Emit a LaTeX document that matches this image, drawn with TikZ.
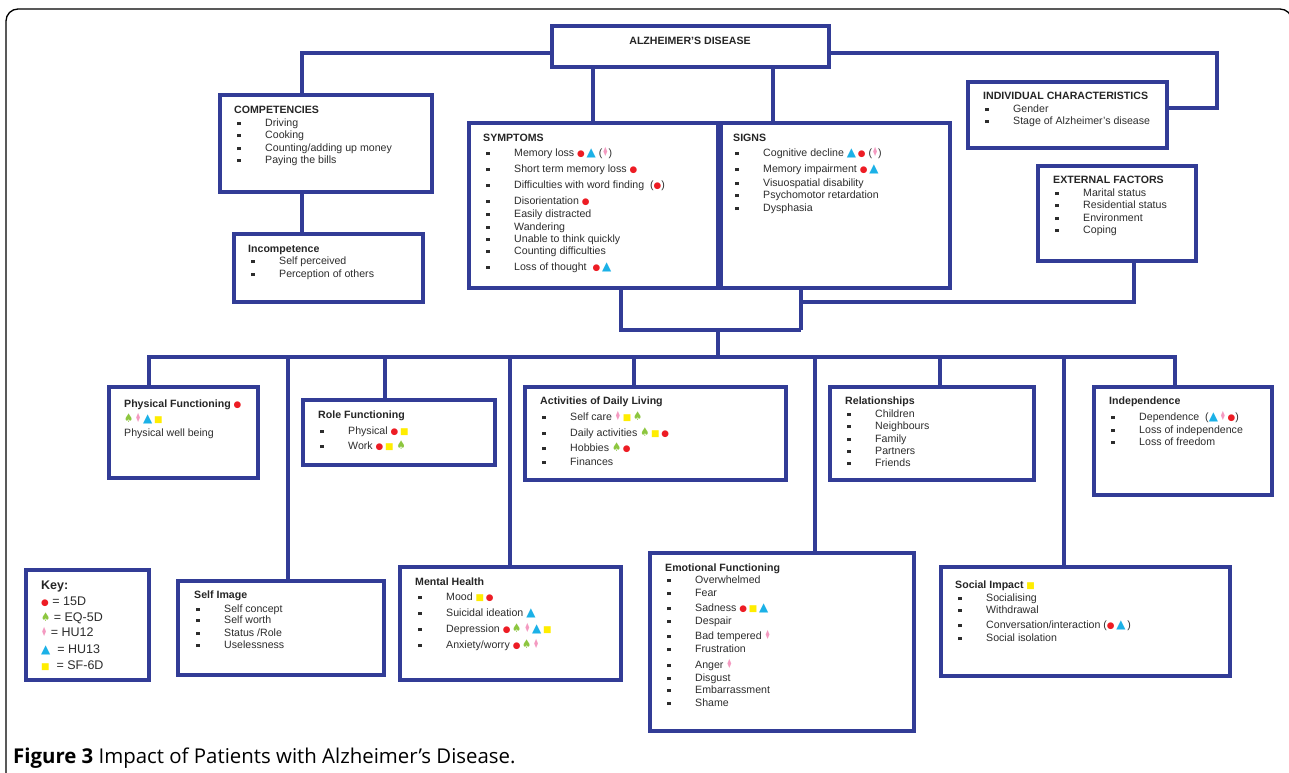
\documentclass[tikz,border=0pt]{standalone}
\usepackage{fontspec}
\usepackage{graphicx}
\setmainfont{Liberation Sans}
\newfontfamily\symf{DejaVu Sans}
\newfontfamily\capf{Open Sans}
\usetikzlibrary{fit}
\definecolor{ln}{RGB}{50,60,150}
\definecolor{cR}{RGB}{237,28,36}
\definecolor{cG}{RGB}{141,198,63}
\definecolor{cP}{RGB}{244,154,193}
\definecolor{cB}{RGB}{27,177,231}
\definecolor{cY}{RGB}{255,237,0}
\definecolor{tx}{RGB}{45,45,45}
\newcommand\sR{{\symf\fontsize{8.8}{10}\selectfont\textcolor{cR}{●}}}
\newcommand\sG{{\symf\fontsize{12}{10}\selectfont\textcolor{cG}{\raisebox{-0.5pt}{\scalebox{0.85}[1]{♠}}}}}
\newcommand\sP{{\symf\fontsize{12.5}{10}\selectfont\textcolor{cP}{\raisebox{-0.5pt}{\scalebox{0.55}[1]{♦}}}}}
\newcommand\sB{{\symf\fontsize{12}{10}\selectfont\textcolor{cB}{▲}}}
\newcommand\sY{{\symf\fontsize{9}{10}\selectfont\textcolor{cY}{■}}}
\newcounter{tn}
\newcommand\itm[3]{\stepcounter{tn}\node[txt] (i\arabic{tn}) at (#1,#2+4) {\makebox[28pt][l]{\rule[0.8pt]{3.6pt}{3.6pt}}#3};}
\newcommand\hd[3]{\stepcounter{tn}\node[hdt] (h\arabic{tn}) at (#1,#2+4) {#3};}
\newcommand\pl[3]{\stepcounter{tn}\node[txt] (p\arabic{tn}) at (#1,#2+4) {#3};}
\begin{document}
\begin{tikzpicture}[x=1pt,y=-1pt,
  box/.style={draw=ln, line width=3.2pt, inner sep=0pt, outer sep=0pt, rectangle},
  conn/.style={draw=ln, line width=3.2pt, line join=miter},
  txt/.style={anchor=base west, inner sep=0pt, text=tx, font=\fontsize{10.6}{12}\selectfont},
  hdt/.style={anchor=base west, inner sep=0pt, text=black!85, font=\bfseries\fontsize{10.6}{12}\selectfont},
  keyt/.style={txt, font=\fontsize{12.5}{14}\selectfont}]
\useasboundingbox (0,0) rectangle (1289,772);
\fill[white] (0,0) rectangle (1289,772);
% outer frame
\draw[black, line width=1.3pt, rounded corners=12pt] (6,790) -- (6,9) -- (1292,9) -- (1292,790);
% boxes
\node[box, fit={(552,26) (829,67)}] (alz) {};
\node[box, fit={(220,95) (432,192)}] (comp) {};
\node[box, fit={(234,234) (423,302)}] (inc) {};
\node[box, fit={(469,123) (721,288)}] (sym) {};
\node[box, fit={(718,123) (950,288)}] (sig) {};
\node[box, fit={(968,82) (1167,148)}] (ind) {};
\node[box, fit={(1038,166) (1196,261)}] (ext) {};
\node[box, fit={(109,387) (258,478)}] (pf) {};
\node[box, fit={(303,400) (495,465)}] (rf) {};
\node[box, fit={(525,387) (786,480)}] (adl) {};
\node[box, fit={(830,387) (1034,480)}] (rel) {};
\node[box, fit={(1094,387) (1272,495)}] (indep) {};
\node[box, fit={(26,570) (149,680)}] (key) {};
\node[box, fit={(178,581) (384,675)}] (si) {};
\node[box, fit={(400,567) (621,680)}] (mh) {};
\node[box, fit={(650,553) (914,731)}] (ef) {};
\node[box, fit={(941,567) (1230,676)}] (soc) {};
% helper coordinates
\coordinate (y53) at (0,53);
\coordinate (y108) at (0,108);
\coordinate (y302) at (0,302);
\coordinate (y330) at (0,330);
\coordinate (y357) at (0,357);
\coordinate (x302) at (302,0);
\coordinate (x593) at (593,0);
\coordinate (x773) at (773,0);
\coordinate (x1217) at (1217,0);
\coordinate (x621) at (621,0);
\coordinate (x801) at (801,0);
\coordinate (x1134) at (1134,0);
\coordinate (x718) at (718,0);
\coordinate (x149) at (149,0);
\coordinate (x288) at (288,0);
\coordinate (x385) at (385,0);
\coordinate (x510) at (510,0);
\coordinate (x634) at (634,0);
\coordinate (x815) at (815,0);
\coordinate (x940) at (940,0);
\coordinate (x1064) at (1064,0);
\coordinate (x1175) at (1175,0);
% connectors
\draw[conn] (alz.west |- y53) -| (comp.north -| x302);
\draw[conn] (comp.south -| x302) -- (inc.north -| x302);
\draw[conn] (alz.south -| x593) -- (sym.north -| x593);
\draw[conn] (alz.south -| x773) -- (sig.north -| x773);
\draw[conn] (alz.east |- y53) -| (x1217 |- y108) -- (ind.east |- y108);
\draw[conn] (sig.south -| x801) |- (x1134 |- y302) -- (ext.south -| x1134);
\draw[conn] (sig.south -| x801) -- (x801 |- y330);
\draw[conn] (sym.south -| x621) |- (x801 |- y330);
\draw[conn] (x718 |- y330) -- (x718 |- y357);
\draw[conn] (pf.north -| x149) |- (x718 |- y357) -| (indep.north -| x1175);
\draw[conn] (x288 |- y357) -- (si.north -| x288);
\draw[conn] (x385 |- y357) -- (rf.north -| x385);
\draw[conn] (x510 |- y357) -- (mh.north -| x510);
\draw[conn] (x634 |- y357) -- (adl.north -| x634);
\draw[conn] (x815 |- y357) -- (ef.north -| x815);
\draw[conn] (x940 |- y357) -- (rel.north -| x940);
\draw[conn] (x1064 |- y357) -- (soc.north -| x1064);
% texts
\node[hdt, anchor=base] (alzt) at (690,44) {ALZHEIMER’S DISEASE};
\hd{234}{109}{COMPETENCIES}
\itm{237}{122}{Driving}
\itm{237}{134}{Cooking}
\itm{237}{147}{Counting/adding up money}
\itm{237}{159}{Paying the bills}
\hd{248}{248}{Incompetence}
\itm{251}{260}{Self perceived}
\itm{251}{273}{Perception of others}
\hd{483}{137}{SYMPTOMS}
\itm{486}{152}{Memory loss \sR\,\sB\ (\sP)}
\itm{486}{168}{Short term memory loss \sR}
\itm{486}{184}{Difficulties with word finding\ \ (\sR)}
\itm{486}{200}{Disorientation \sR}
\itm{486}{213}{Easily distracted}
\itm{486}{226}{Wandering}
\itm{486}{238}{Unable to think quickly}
\itm{486}{250}{Counting difficulties}
\itm{486}{266}{Loss of thought\ \ \sR\,\sB}
\hd{733}{137}{SIGNS}
\itm{735}{152}{Cognitive decline \sB\,\sR\ (\sP)}
\itm{735}{168}{Memory impairment \sR\,\sB}
\itm{735}{182}{Visuospatial disability}
\itm{735}{194}{Psychomotor retardation}
\itm{735}{207}{Dysphasia}
\hd{983}{95}{INDIVIDUAL CHARACTERISTICS}
\itm{985}{108}{Gender}
\itm{985}{120}{Stage of Alzheimer’s disease}
\hd{1053}{179}{EXTERNAL FACTORS}
\itm{1055}{192}{Marital status}
\itm{1055}{204}{Residential status}
\itm{1055}{217}{Environment}
\itm{1055}{229}{Coping}
\hd{124}{403}{Physical Functioning \sR}
\pl{124}{418}{\sG\,\sP\,\sB\,\sY}
\pl{124}{432}{Physical well being}
\hd{318}{414}{Role Functioning}
\itm{320}{430}{Physical \sR\,\sY}
\itm{320}{445}{Work \sR\,\sY\ \sG}
\hd{540}{400}{Activities of Daily Living}
\itm{542}{416}{Self care \sP\,\sY\,\sG}
\itm{542}{432}{Daily activities \sG\,\sY\,\sR}
\itm{542}{447}{Hobbies \sG\,\sR}
\itm{542}{461}{Finances}
\hd{845}{400}{Relationships}
\itm{847}{413}{Children}
\itm{847}{425}{Neighbours}
\itm{847}{438}{Family}
\itm{847}{450}{Partners}
\itm{847}{462}{Friends}
\hd{1109}{400}{Independence}
\itm{1111}{416}{Dependence\ \ (\sB\,\sP\,\sR)}
\itm{1111}{429}{Loss of independence}
\itm{1111}{441}{Loss of freedom}
\node[hdt, font=\bfseries\fontsize{12.5}{14}\selectfont] (keyt) at (41,589) {Key:};
\node[keyt] (k1) at (41,605) {\sR\ = 15D};
\node[keyt] (k2) at (41,621) {\sG\ = EQ-5D};
\node[keyt] (k3) at (41,636) {\sP\ = HU12};
\node[keyt] (k4) at (41,653) {\sB\ \ = HU13};
\node[keyt] (k5) at (41,669) {\sY\ \ = SF-6D};
\hd{194}{594}{Self Image}
\itm{196}{608}{Self concept}
\itm{196}{619}{Self worth}
\itm{196}{632}{Status /Role}
\itm{196}{644}{Uselessness}
\hd{415}{581}{Mental Health}
\itm{418}{596}{Mood \sY\,\sR}
\itm{418}{612}{Suicidal ideation \sB}
\itm{418}{628}{Depression \sR\,\sG\ \sP\,\sB\,\sY}
\itm{418}{644}{Anxiety/worry \sR\,\sG\,\sP}
\hd{665}{567}{Emotional Functioning}
\itm{667}{579}{Overwhelmed}
\itm{667}{592}{Fear}
\itm{667}{607}{Sadness \sR\,\sY\,\sB}
\itm{667}{620}{Despair}
\itm{667}{635}{Bad tempered \sP}
\itm{667}{648}{Frustration}
\itm{667}{664}{Anger \sP}
\itm{667}{677}{Disgust}
\itm{667}{689}{Embarrassment}
\itm{667}{702}{Shame}
\hd{955}{584}{Social Impact \sY}
\itm{958}{597}{Socialising}
\itm{958}{609}{Withdrawal}
\itm{958}{624}{Conversation/interaction (\sR\,\sB\,)}
\itm{958}{637}{Social isolation}
% caption
\node[anchor=base west, inner sep=0pt, text=black, font=\capf\fontsize{20.4}{22}\selectfont] (cap) at (13,763) {\textbf{Figure 3} Impact of Patients with Alzheimer’s Disease.};
\end{tikzpicture}
\end{document}
